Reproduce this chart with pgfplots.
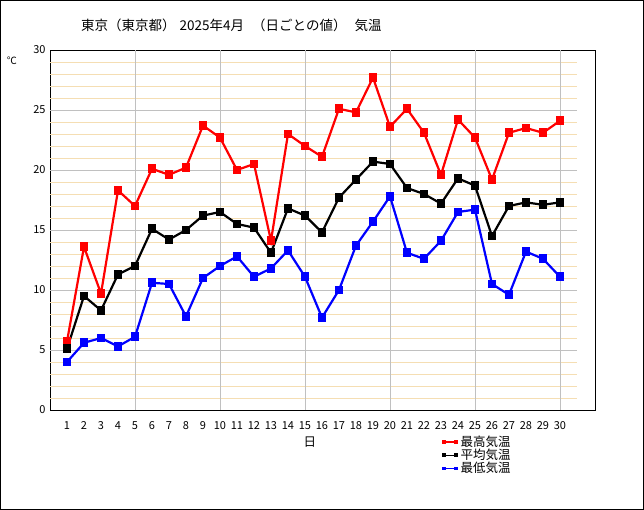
\documentclass[border=0pt]{standalone}
\usepackage{fontspec}
\setmainfont{Noto Sans CJK JP}
\usepackage{pgfplots}
\pgfplotsset{compat=1.18}
\usepackage{pgfplotstable}

\definecolor{majgrid}{RGB}{192,192,192}
\definecolor{mingrid}{RGB}{245,222,179}

% day, max, mean, min
\pgfplotstableread{
day hi  mean lo
1   5.7  5.1  4.0
2   13.6 9.5  5.6
3   9.7  8.3  6.0
4   18.3 11.3 5.3
5   17.0 12.0 6.1
6   20.1 15.1 10.6
7   19.6 14.2 10.5
8   20.2 15.0 7.8
9   23.7 16.2 11.0
10  22.7 16.5 12.0
11  20.0 15.5 12.8
12  20.5 15.2 11.1
13  14.1 13.1 11.8
14  23.0 16.8 13.3
15  22.0 16.2 11.1
16  21.1 14.8 7.7
17  25.1 17.7 10.0
18  24.8 19.2 13.7
19  27.7 20.7 15.7
20  23.6 20.5 17.8
21  25.1 18.5 13.1
22  23.1 18.0 12.6
23  19.6 17.2 14.1
24  24.2 19.3 16.5
25  22.7 18.7 16.7
26  19.2 14.5 10.5
27  23.1 17.0 9.6
28  23.5 17.3 13.2
29  23.1 17.1 12.6
30  24.1 17.3 11.1
}\tokyo

\begin{document}
\begin{tikzpicture}
\draw[line width=1pt] (0.5pt,0.5pt) rectangle (643.5pt,509.5pt);

\node[anchor=west, inner sep=0pt, font=\fontsize{13.5}{13.5}\selectfont] at (81pt,485pt)
  {東京（東京都）\hspace{4pt}2025年4月\hspace{8pt}（日ごとの値）\hspace{8pt}気温};

\begin{axis}[
  at={(50pt,100pt)}, anchor=south west,
  width=545pt, height=360pt, scale only axis,
  xmin=0, xmax=32.06, ymin=0, ymax=30,
  xtick={1,...,30}, ytick={0,5,...,30},
  major tick length=0pt,
  axis line style={line width=0.8pt},
  /pgf/number format/assume math mode=true,
  tick label style={font=\fontsize{11}{11}\selectfont},
  xticklabel style={yshift=-8pt},
  yticklabel style={xshift=-1pt},
  xlabel={日},
  xlabel style={at={(axis description cs:0.477,-0.089)}, anchor=center,
    font=\fontsize{12.5}{12.5}\selectfont},
  ylabel={℃},
  ylabel style={at={(axis description cs:-0.07,0.97)}, anchor=center, rotate=-90,
    font=\fontsize{10}{10}\selectfont},
  legend style={at={(axis description cs:0.72,-0.07)}, anchor=north west,
    draw=none, fill=none, inner sep=0pt, row sep=0pt,
    font=\fontsize{12.5}{12.5}\selectfont,
    nodes={inner ysep=0.6pt, inner xsep=3.5pt}},
  legend cell align=left,
  legend image code/.code={\draw[#1, line width=1.2pt, mark size=1.3pt]
    plot coordinates {(0pt,0pt) (12pt,0pt)};},
  every axis plot/.append style={line width=2.2pt, mark=square*, mark size=3.2pt},
]
\pgfplotsinvokeforeach{1,2,3,4,6,7,8,9,11,12,13,14,16,17,18,19,21,22,23,24,26,27,28,29}{
  \draw[mingrid, line width=0.8pt] (axis cs:0,#1) -- (axis cs:31,#1);
}
\pgfplotsinvokeforeach{5,10,15,20,25}{
  \draw[majgrid, line width=0.8pt] (axis cs:0,#1) -- (axis cs:31,#1);
}
\pgfplotsinvokeforeach{5,10,15,20,25,30}{
  \draw[majgrid, line width=0.8pt] (axis cs:#1,0) -- (axis cs:#1,30);
}
\addplot[red, mark options={solid}] table[x=day, y=hi] {\tokyo};
\addlegendentry{最高気温}
\addplot[black, mark options={solid}] table[x=day, y=mean] {\tokyo};
\addlegendentry{平均気温}
\addplot[blue, mark options={solid}] table[x=day, y=lo] {\tokyo};
\addlegendentry{最低気温}
\end{axis}
\end{tikzpicture}
\end{document}
